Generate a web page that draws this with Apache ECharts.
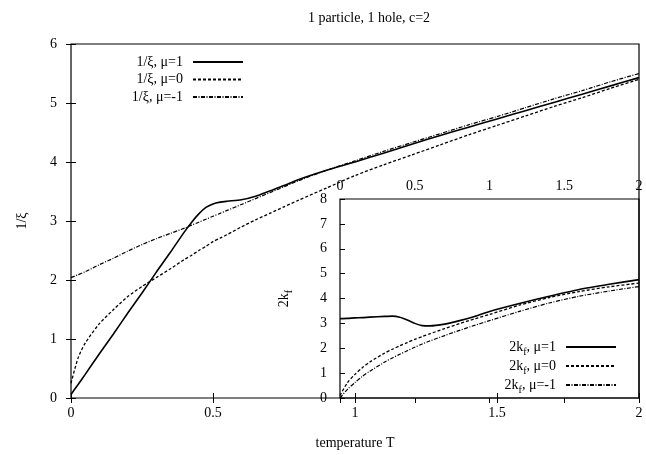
<!DOCTYPE html>
<html><head><meta charset="utf-8">
<script src="https://cdn.jsdelivr.net/npm/echarts@6/dist/echarts.min.js"></script>
<style>html,body{margin:0;padding:0;background:#fff}#c{width:646px;height:455px}</style>
</head><body><div id="c"></div>
<script>
// ---- main panel: 1/xi vs temperature T ----
const mainT   = [0, 0.025, 0.05, 0.1, 0.15, 0.2, 0.25, 0.3, 0.35, 0.4, 0.425, 0.45, 0.475, 0.5, 0.525, 0.55, 0.6, 0.65, 0.7, 0.75, 0.8, 0.9, 1.0, 1.1, 1.2, 1.3, 1.4, 1.5, 1.6, 1.7, 1.8, 1.9, 2.0];
const xiMu1   = [0.06, 0.23, 0.40, 0.75, 1.09, 1.44, 1.78, 2.13, 2.47, 2.82, 2.98, 3.12, 3.23, 3.29, 3.32, 3.335, 3.36, 3.42, 3.51, 3.60, 3.70, 3.86, 4.00, 4.15, 4.30, 4.45, 4.59, 4.73, 4.87, 5.01, 5.15, 5.29, 5.43];
const xiMu0   = [0.25, 0.68, 0.93, 1.26, 1.50, 1.72, 1.89, 2.04, 2.19, 2.35, 2.42, 2.50, 2.57, 2.65, 2.71, 2.77, 2.90, 3.02, 3.13, 3.24, 3.35, 3.56, 3.77, 3.95, 4.12, 4.29, 4.46, 4.62, 4.78, 4.94, 5.09, 5.25, 5.40];
const xiMuM1  = [2.04, 2.09, 2.14, 2.26, 2.37, 2.49, 2.60, 2.70, 2.79, 2.88, 2.93, 2.98, 3.03, 3.08, 3.13, 3.18, 3.28, 3.38, 3.48, 3.58, 3.68, 3.86, 4.02, 4.18, 4.33, 4.48, 4.63, 4.77, 4.92, 5.07, 5.21, 5.36, 5.50];
// ---- inset: 2k_f vs T ----
const kfT     = [0, 0.05, 0.1, 0.15, 0.2, 0.3, 0.35, 0.4, 0.45, 0.5, 0.55, 0.6, 0.7, 0.8, 0.9, 1.0, 1.2, 1.4, 1.6, 1.8, 2.0];
const kfMu1   = [3.19, 3.20, 3.22, 3.23, 3.25, 3.28, 3.29, 3.25, 3.14, 3.00, 2.91, 2.90, 2.97, 3.11, 3.28, 3.48, 3.80, 4.09, 4.36, 4.57, 4.76];
const kfMu0   = [0.10, 0.62, 0.95, 1.22, 1.45, 1.81, 1.96, 2.10, 2.23, 2.36, 2.47, 2.58, 2.79, 2.99, 3.18, 3.36, 3.73, 4.04, 4.28, 4.47, 4.62];
const kfMuM1  = [0.00, 0.35, 0.62, 0.87, 1.08, 1.45, 1.61, 1.76, 1.90, 2.04, 2.17, 2.29, 2.51, 2.72, 2.92, 3.11, 3.48, 3.82, 4.09, 4.30, 4.48];

const mainNames  = ['1/ξ, μ=1', '1/ξ, μ=0', '1/ξ, μ=-1'];
const insetNames = ['2k_f, μ=1', '2k_f, μ=0', '2k_f, μ=-1'];
const titleText  = '1 particle, 1 hole, c=2';
const xName = 'temperature T';
const yName = '1/ξ';

const FONT = 'Liberation Serif';
const zip = (xs, ys) => xs.map((x, i) => [x, ys[i]]);
const styles = [
  {color: '#000', width: 1.6, type: 'solid'},
  {color: '#000', width: 1.3, type: [3, 2]},
  {color: '#000', width: 1.2, type: [4, 1.5, 1, 1.5]}
];
const subRich = {
  a: {fontFamily: FONT, fontSize: 14, color: '#000', lineHeight: 14, verticalAlign: 'top'},
  s: {fontFamily: FONT, fontSize: 10, color: '#000', lineHeight: 10, padding: [7, 0, 0, 0], verticalAlign: 'top'}
};
const richName = n => n.replace(/^2k_f(.*)$/, '{a|2k}{s|f}{a|$1}');
const txt = {fontFamily: FONT, fontSize: 14, color: '#000'};
const tick = {inside: true, length: 5, lineStyle: {color: '#000', width: 1}};

function mk(name, xs, ys, st, xi, yi) {
  return {name, type: 'line', xAxisIndex: xi, yAxisIndex: yi, data: zip(xs, ys),
    symbol: 'none', showSymbol: false, smooth: 0.25, color: '#000',
    lineStyle: st, z: 3};
}

const chart = echarts.init(document.getElementById('c'), null, {renderer: 'canvas'});
chart.setOption({
  animation: false,
  backgroundColor: '#fff',
  title: {text: titleText, left: 364, top: 6, textAlign: 'center',
    textStyle: {fontFamily: FONT, fontSize: 14, fontWeight: 'normal', color: '#000'}},
  grid: [
    {left: 71, right: 7, top: 44, bottom: 57, show: true, borderColor: '#000', borderWidth: 1.2},
    {left: 340, right: 7, top: 199, bottom: 57, show: true, borderColor: '#000', borderWidth: 1.2}
  ],
  xAxis: [
    {gridIndex: 0, type: 'value', min: 0, max: 2, interval: 0.5, position: 'bottom',
      name: xName, nameLocation: 'middle', nameGap: 38, nameTextStyle: txt,
      axisLine: {show: false}, axisTick: tick, splitLine: {show: false},
      axisLabel: Object.assign({margin: 8}, txt)},
    {gridIndex: 0, type: 'value', min: 0, max: 2, interval: 0.5, position: 'top',
      axisLine: {show: false}, axisTick: tick, splitLine: {show: false}, axisLabel: {show: false}},
    {gridIndex: 1, type: 'value', min: 0, max: 2, interval: 0.5, position: 'top',
      axisLine: {show: false}, axisTick: tick, splitLine: {show: false},
      axisLabel: Object.assign({margin: 6}, txt)}
  ],
  yAxis: [
    {gridIndex: 0, type: 'value', min: 0, max: 6, interval: 1, position: 'left',
      name: yName, nameLocation: 'middle', nameGap: 42, nameTextStyle: txt,
      axisLine: {show: false}, axisTick: tick, splitLine: {show: false},
      axisLabel: Object.assign({margin: 14}, txt)},
    {gridIndex: 0, type: 'value', min: 0, max: 6, interval: 1, position: 'right',
      axisLine: {show: false}, axisTick: tick, splitLine: {show: false}, axisLabel: {show: false}},
    {gridIndex: 1, type: 'value', min: 0, max: 8, interval: 1, position: 'left',
      name: '{a|2k}{s|f}', nameLocation: 'middle', nameGap: 49,
      nameTextStyle: {rich: subRich},
      axisLine: {show: false}, axisTick: tick, splitLine: {show: false},
      axisLabel: Object.assign({margin: 13}, txt)}
  ],
  legend: [
    {data: mainNames, orient: 'vertical', right: 402, top: 55, align: 'right', padding: 0,
      itemWidth: 50, itemHeight: 14, itemGap: 3.5, selectedMode: false,
      itemStyle: {opacity: 0},
      textStyle: Object.assign({padding: [0, 5, 0, 0]}, txt)},
    {data: insetNames, orient: 'vertical', right: 29, top: 340, align: 'right', padding: 0,
      itemWidth: 50, itemHeight: 14, itemGap: 2, selectedMode: false,
      itemStyle: {opacity: 0},
      formatter: richName,
      textStyle: {padding: [0, 5, 0, 0], rich: subRich}}
  ],
  series: [
    mk(mainNames[0], mainT, xiMu1, styles[0], 0, 0),
    mk(mainNames[1], mainT, xiMu0, styles[1], 0, 0),
    mk(mainNames[2], mainT, xiMuM1, styles[2], 0, 0),
    mk(insetNames[0], kfT, kfMu1, styles[0], 2, 2),
    mk(insetNames[1], kfT, kfMu0, styles[1], 2, 2),
    mk(insetNames[2], kfT, kfMuM1, styles[2], 2, 2)
  ]
});
</script>
</body></html>
